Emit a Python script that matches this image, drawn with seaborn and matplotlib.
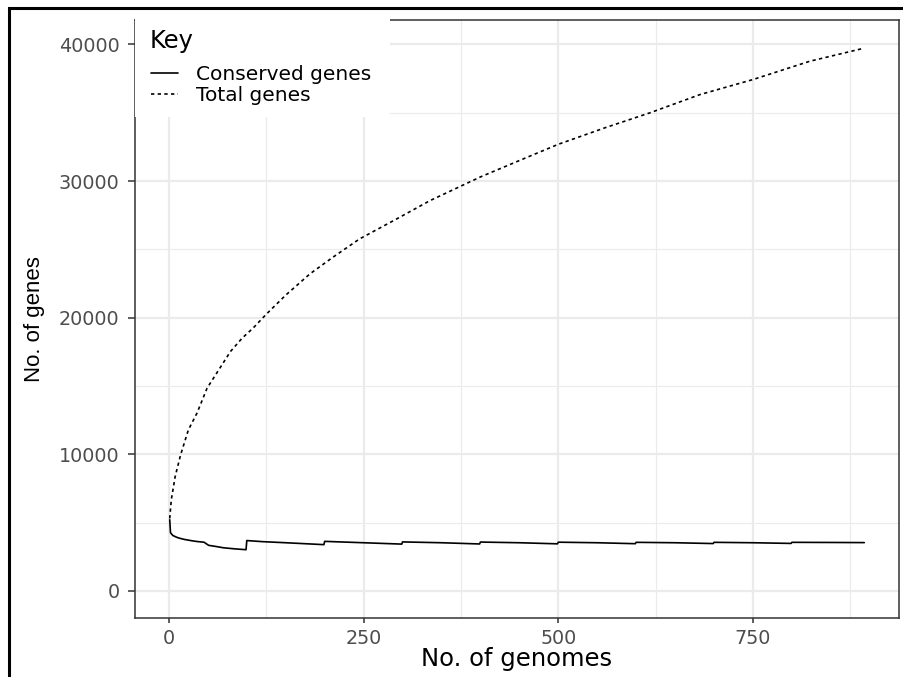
# Pan-genome curve: conserved vs total genes
import pandas as pd
import matplotlib
matplotlib.use("Agg")
import matplotlib.pyplot as plt
import matplotlib.patches as mpatches
from matplotlib.lines import Line2D
import seaborn as sns

# ==============
# DADOS
# ==============

conserved_x = [1, 2, 5, 10, 13, 20, 30, 36, 45, 51, 60, 70, 85, 99,
               100, 120, 150, 199, 200, 250, 299, 300, 350, 399,
               400, 450, 499, 500, 550, 599, 600, 650, 699, 700,
               750, 799, 800, 850, 893]
conserved_y = [5200, 4250, 4050, 3920, 3860, 3760, 3660, 3610, 3560, 3330,
               3250, 3150, 3070, 3010, 3680, 3600, 3520, 3380, 3620, 3520,
               3420, 3580, 3520, 3430, 3570, 3520, 3440, 3560, 3520, 3450,
               3550, 3520, 3460, 3550, 3520, 3470, 3550, 3540, 3530]

total_x = [1, 3, 8, 15, 25, 36, 49, 64, 79, 94, 108, 125, 150, 181, 210,
           245, 290, 335, 400, 450, 500, 560, 618, 682, 750, 823, 893]
total_y = [5300, 6660, 8370, 9960, 11790, 13010, 14840, 16180, 17520, 18500,
           19230, 20250, 21650, 23200, 24400, 25770, 27150, 28560, 30300,
           31500, 32690, 33900, 35000, 36330, 37430, 38770, 39730]

x_ticks = [0, 250, 500, 750]
x_minor = [125, 375, 625, 875]
y_ticks = [0, 10000, 20000, 30000, 40000]
y_minor = [5000, 15000, 25000, 35000]

df = pd.concat([
    pd.DataFrame({"genomes": conserved_x, "genes": conserved_y, "Key": "Conserved genes"}),
    pd.DataFrame({"genomes": total_x, "genes": total_y, "Key": "Total genes"}),
], ignore_index=True)

# ==============
# GRAFICO
# ==============

sns.set_theme(style="white")
plt.rcParams["font.family"] = ["DejaVu Sans"]
plt.rcParams["text.color"] = "black"

W, H = 904, 677
fig = plt.figure(figsize=(W / 100, H / 100), dpi=100)
ax = fig.add_axes([135 / W, 1 - 618 / H, (899 - 135) / W, (618 - 20) / H])

sns.lineplot(data=df, x="genomes", y="genes", style="Key",
             dashes={"Conserved genes": "", "Total genes": (2, 2)},
             color="black", lw=1.2, estimator=None, sort=False, ax=ax)
ax.get_legend().remove()

ax.set_xlim(-43.6, 937.6)
ax.set_ylim(-1990, 41790)
ax.set_xticks(x_ticks)
ax.set_xticks(x_minor, minor=True)
ax.set_yticks(y_ticks)
ax.set_yticks(y_minor, minor=True)
ax.set_xticklabels([str(t) for t in x_ticks])
ax.set_yticklabels([str(t) for t in y_ticks])

ax.grid(which="major", color="#EBEBEB", lw=1.6)
ax.grid(which="minor", color="#EBEBEB", lw=0.8)
ax.set_axisbelow(True)

for s in ax.spines.values():
    s.set_color("#333333")
    s.set_linewidth(1.1)

ax.tick_params(axis="x", which="major", length=3.7, width=1.1, color="#333333",
               labelsize=13.8, labelcolor="#4D4D4D", pad=4.3, bottom=True)
ax.tick_params(axis="y", which="major", length=5.2, width=1.1, color="#333333",
               labelsize=13.8, labelcolor="#4D4D4D", pad=5.8, left=True)
ax.tick_params(which="minor", length=0)

ax.set_xlabel("No. of genomes", fontsize=17.5, color="black")
ax.xaxis.set_label_coords(0.5, -0.0485)
ax.set_ylabel("No. of genes", fontsize=16, color="black",
              family=["Liberation Sans", "DejaVu Sans"])
ax.yaxis.set_label_coords((45 - 135) / 764, 0.5)

# caixa branca da legenda sobre o painel
caixa = mpatches.Rectangle((135 / W, 1 - 117 / H), 255 / W, 100 / H,
                           transform=fig.transFigure, facecolor="white",
                           edgecolor="none", zorder=3, clip_on=False)
ax.add_patch(caixa)

# titulo da legenda
fig.text(150 / W, 1 - 48 / H, "Key", fontsize=17.5, color="black",
         ha="left", va="baseline")

handles = [Line2D([], [], color="black", lw=1.2),
           Line2D([], [], color="black", lw=1.2, dashes=(2, 2))]
leg = ax.legend(handles, ["Conserved genes", "Total genes"],
                loc="upper left", bbox_to_anchor=(151 / W, 1 - 65 / H),
                bbox_transform=fig.transFigure, frameon=False,
                fontsize=14.5, handlelength=1.35,
                handletextpad=0.9, labelspacing=0.1, borderpad=0,
                borderaxespad=0)
leg.set_zorder(5)
for t in leg.get_texts():
    t.set_color("black")

# borda externa preta
borda = mpatches.Rectangle((8.5 / W, -0.1), 1.2, 1.1 - 8 / H,
                           transform=fig.transFigure, fill=False,
                           edgecolor="black", lw=2.2)
fig.add_artist(borda)

fig.savefig("out.png", dpi=100)
